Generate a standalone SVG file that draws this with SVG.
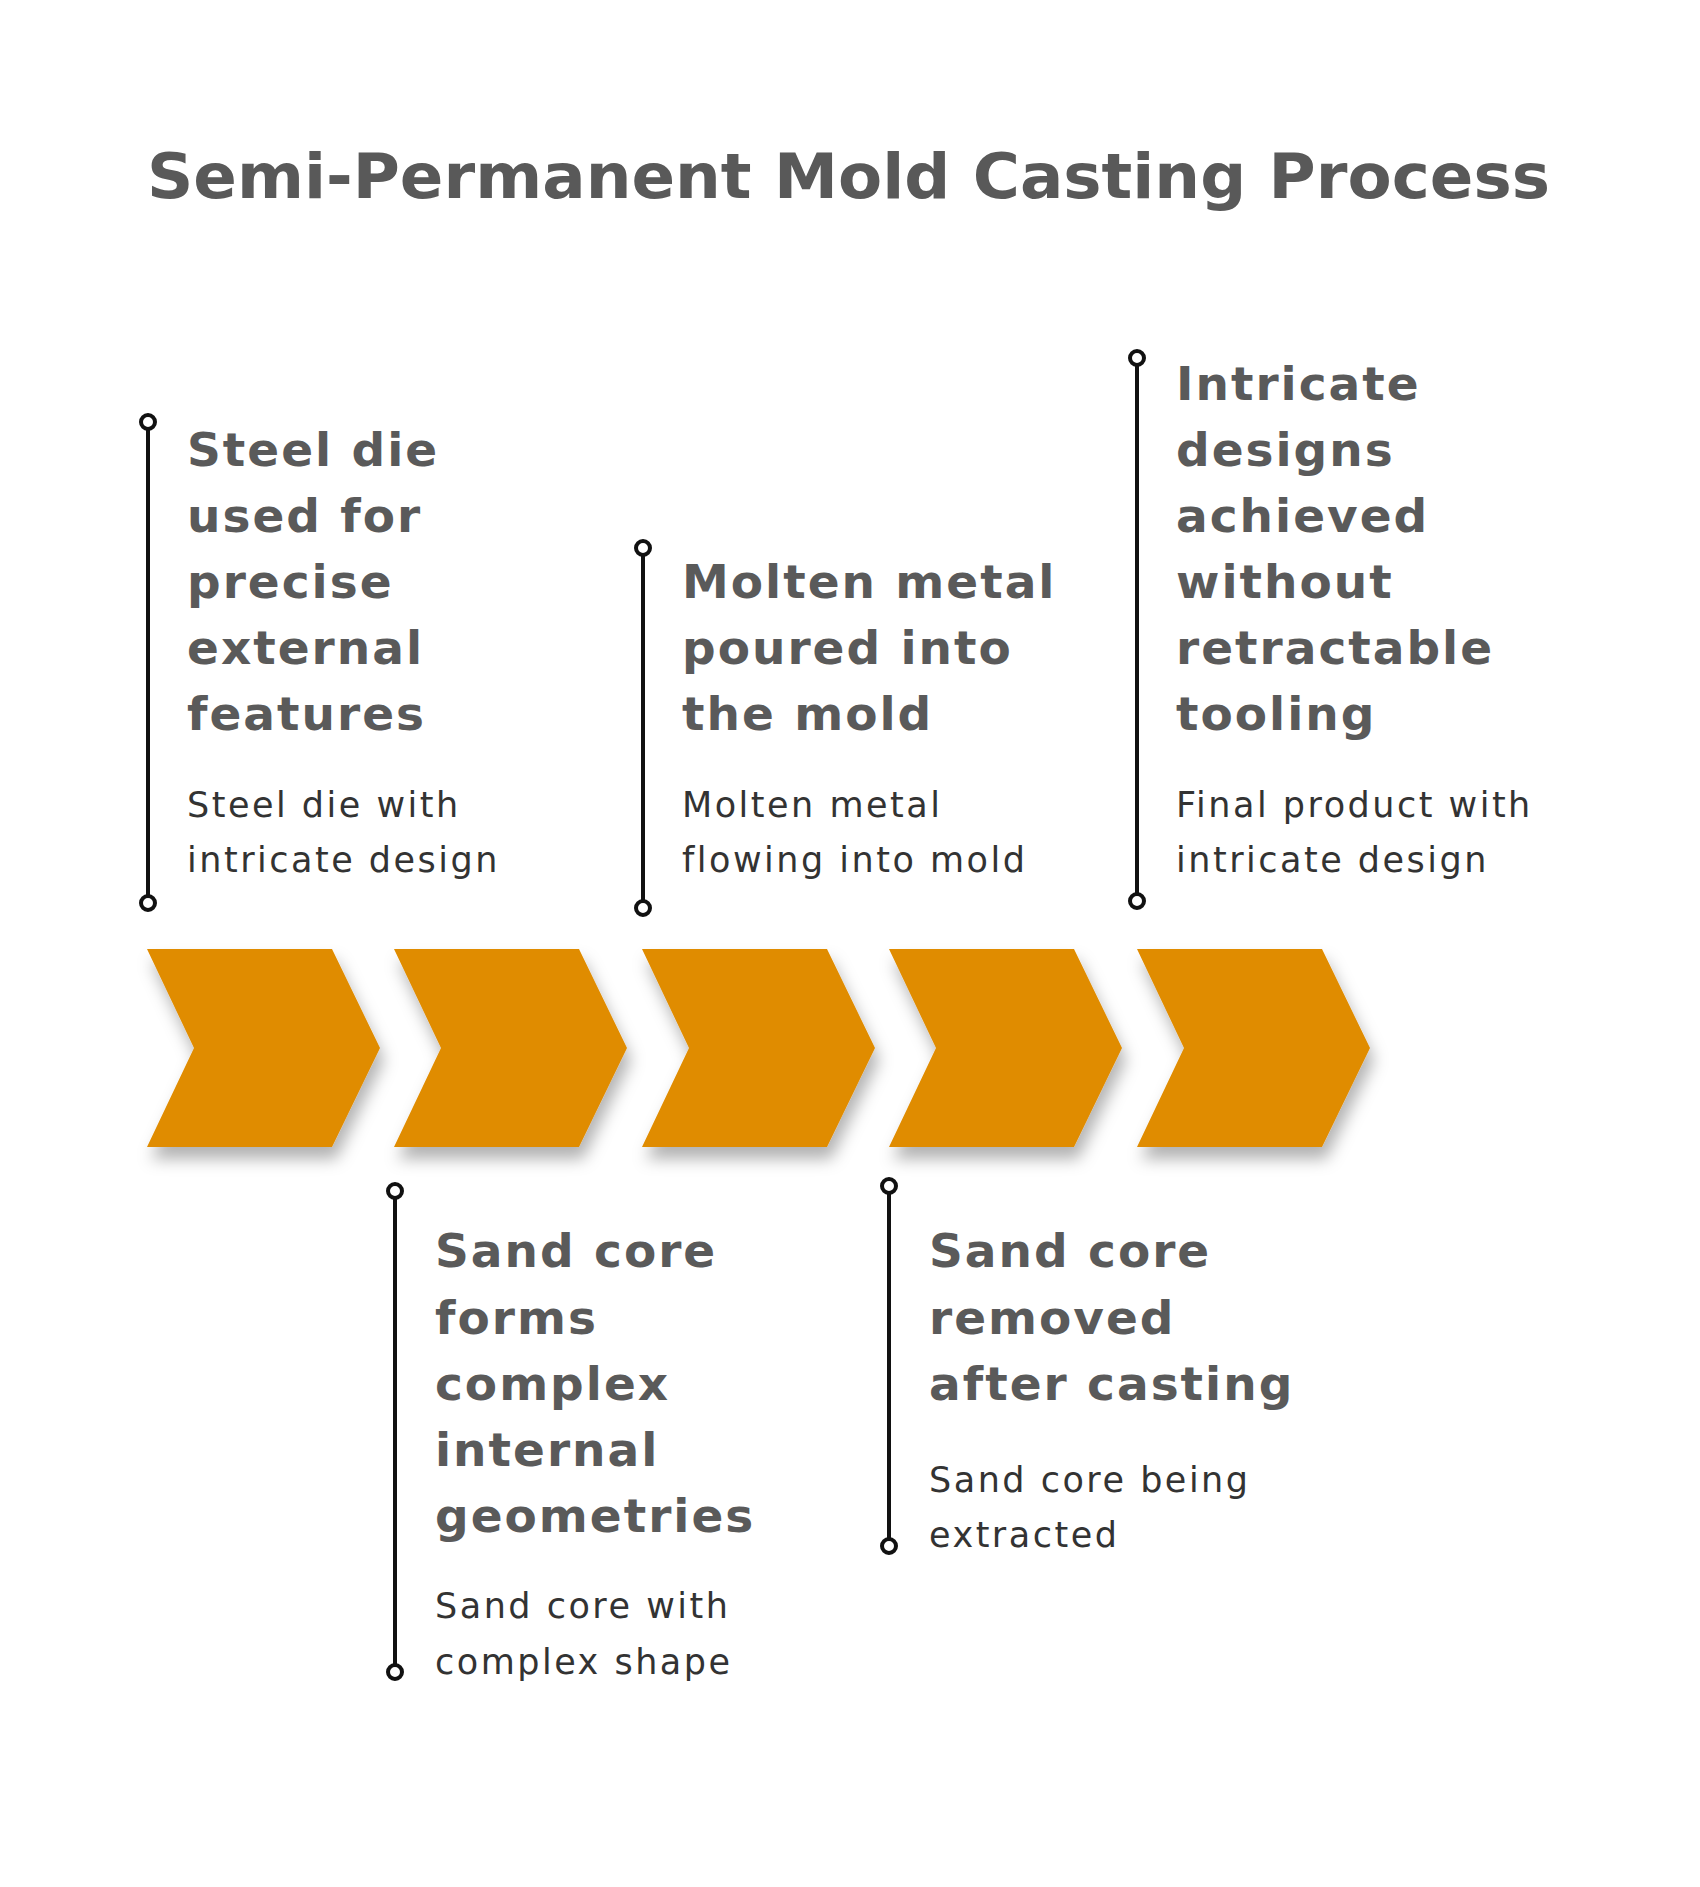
<svg xmlns="http://www.w3.org/2000/svg" width="1700" height="1887" viewBox="0 0 1700 1887">
<defs>
<filter id="sh" x="-20%" y="-20%" width="140%" height="150%"><feDropShadow dx="4" dy="12" stdDeviation="8" flood-color="#000" flood-opacity="0.3"/></filter>
<path id="chev" d="M0 0 H185 L233 99 L185 198 H0 L47 99 Z"/>
</defs>
<style>
.t{font-family:"DejaVu Sans","Open Sans",sans-serif;font-weight:700;fill:#595959}
.h{font-family:"DejaVu Sans","Open Sans",sans-serif;font-weight:700;font-size:47px;letter-spacing:2px;fill:#5a5a5a}
.d{font-family:"DejaVu Sans","Open Sans",sans-serif;font-size:35px;letter-spacing:2.5px;fill:#333}
.ln{stroke:#111;stroke-width:4;fill:none}
.dot{stroke:#111;stroke-width:4;fill:#fff}
.c{fill:#E08C00;filter:url(#sh)}
</style>
<rect width="1700" height="1887" fill="#fff"/>
<text class="t" x="147" y="198" font-size="62" textLength="1403" lengthAdjust="spacingAndGlyphs">Semi-Permanent Mold Casting Process</text>
<g id="chevrons">
<use href="#chev" class="c" x="147" y="949"/>
<use href="#chev" class="c" x="394" y="949"/>
<use href="#chev" class="c" x="642" y="949"/>
<use href="#chev" class="c" x="889" y="949"/>
<use href="#chev" class="c" x="1137" y="949"/>
</g>
<g id="connectors">
<line class="ln" x1="148" y1="422" x2="148" y2="903"/><circle class="dot" cx="148" cy="422" r="7"/><circle class="dot" cx="148" cy="903" r="7"/>
<line class="ln" x1="643" y1="548" x2="643" y2="908"/><circle class="dot" cx="643" cy="548" r="7"/><circle class="dot" cx="643" cy="908" r="7"/>
<line class="ln" x1="1137" y1="358" x2="1137" y2="901"/><circle class="dot" cx="1137" cy="358" r="7"/><circle class="dot" cx="1137" cy="901" r="7"/>
<line class="ln" x1="395" y1="1191" x2="395" y2="1672"/><circle class="dot" cx="395" cy="1191" r="7"/><circle class="dot" cx="395" cy="1672" r="7"/>
<line class="ln" x1="889" y1="1186" x2="889" y2="1546"/><circle class="dot" cx="889" cy="1186" r="7"/><circle class="dot" cx="889" cy="1546" r="7"/>
</g>
<g id="n1">
<text class="h" x="187" y="466">Steel die</text><text class="h" x="187" y="532">used for</text><text class="h" x="187" y="598">precise</text><text class="h" x="187" y="664">external</text><text class="h" x="187" y="730">features</text>
<text class="d" x="187" y="817">Steel die with</text><text class="d" x="187" y="872">intricate design</text>
</g>
<g id="n3">
<text class="h" x="682" y="598">Molten metal</text><text class="h" x="682" y="664">poured into</text><text class="h" x="682" y="730">the mold</text>
<text class="d" x="682" y="817">Molten metal</text><text class="d" x="682" y="872">flowing into mold</text>
</g>
<g id="n5">
<text class="h" x="1176" y="400">Intricate</text><text class="h" x="1176" y="466">designs</text><text class="h" x="1176" y="532">achieved</text><text class="h" x="1176" y="598">without</text><text class="h" x="1176" y="664">retractable</text><text class="h" x="1176" y="730">tooling</text>
<text class="d" x="1176" y="817">Final product with</text><text class="d" x="1176" y="872">intricate design</text>
</g>
<g id="n2">
<text class="h" x="435" y="1267">Sand core</text><text class="h" x="435" y="1334">forms</text><text class="h" x="435" y="1400">complex</text><text class="h" x="435" y="1466">internal</text><text class="h" x="435" y="1532">geometries</text>
<text class="d" x="435" y="1618">Sand core with</text><text class="d" x="435" y="1674">complex shape</text>
</g>
<g id="n4">
<text class="h" x="929" y="1267">Sand core</text><text class="h" x="929" y="1334">removed</text><text class="h" x="929" y="1400">after casting</text>
<text class="d" x="929" y="1492">Sand core being</text><text class="d" x="929" y="1547">extracted</text>
</g>
</svg>
